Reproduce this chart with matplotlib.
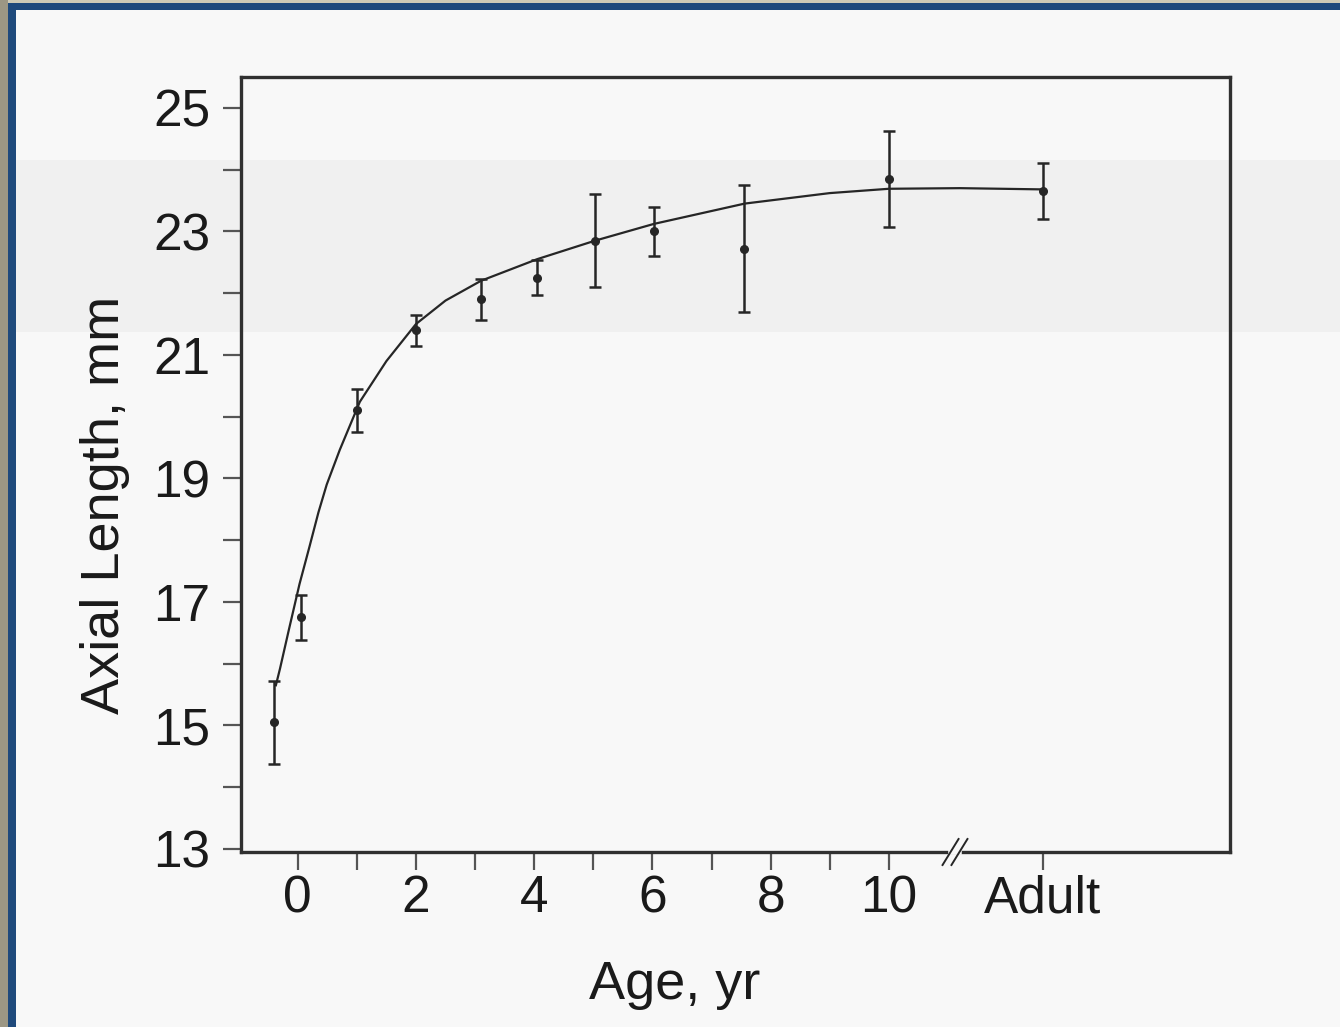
import matplotlib
matplotlib.use("Agg")
import matplotlib.pyplot as plt
from matplotlib.patches import Rectangle

plt.rcParams['font.family'] = ['Liberation Sans', 'DejaVu Sans']

# mean axial length by age
age = [-0.4, 0.05, 1, 2, 3.1, 4.05, 5.03, 6.03, 7.55, 10.0, 12.6]
axial_len = [15.05, 16.75, 20.1, 21.4, 21.9, 22.25, 22.85, 23.0, 22.72, 23.85, 23.65]
err = [0.67, 0.36, 0.35, 0.25, 0.33, 0.28, 0.75, 0.4, 1.03, 0.78, 0.45]

# fitted growth curve
curve_age = [-0.37, -0.3, -0.15, 0.03, 0.2, 0.35, 0.49, 0.71, 1.05, 1.5, 2.0,
             2.5, 3.1, 4.05, 5.03, 6.02, 7.56, 9.0, 10.0, 11.2, 12.6]
curve_len = [15.65, 15.92, 16.55, 17.29, 17.9, 18.45, 18.9, 19.46, 20.24, 20.9, 21.5,
             21.88, 22.2, 22.55, 22.85, 23.12, 23.45, 23.62, 23.69, 23.7, 23.68]

xtick_pos = [0, 2, 4, 6, 8, 10, 12.6]
xtick_labels = ['0', '2', '4', '6', '8', '10', 'Adult']
xminor_pos = [1, 3, 5, 7, 9]
ytick_pos = [13, 15, 17, 19, 21, 23, 25]
yminor_pos = [14, 16, 18, 20, 22, 24]

ink = '#262626'

fig = plt.figure(figsize=(13.4, 10.27), dpi=100, facecolor='#f8f8f8')

# scan frame (beige edge + blue border) and the faint grey band of the page
W, H = 1340, 1027
def px_rect(x, y, w, h, color):
    fig.add_artist(Rectangle((x / W, 1 - (y + h) / H), w / W, h / H,
                             transform=fig.transFigure, color=color, lw=0, zorder=-5))
px_rect(0, 160, W, 172, '#f0f0f0')
px_rect(0, 0, W, 3, '#cfcbb6')
px_rect(0, 3, W, 7, '#1f4a7c')
px_rect(0, 0, 8, H, '#9c9784')
px_rect(8, 3, 8, H, '#1f4a7c')

ax = fig.add_axes([241 / W, 1 - 852 / H, (1230 - 241) / W, (852 - 77) / H])
ax.set_facecolor('none')

ax.plot(curve_age, curve_len, color=ink, lw=1.6, zorder=2)
ax.errorbar(age, axial_len, yerr=err, fmt='o', color=ink, ms=5.5, elinewidth=1.8,
            capsize=4.5, capthick=1.8, zorder=3)

ax.set_xlim(-0.96, 15.77)
ax.set_ylim(12.95, 25.5)

ax.set_xticks(xtick_pos)
ax.set_xticklabels(xtick_labels)
ax.set_xticks(xminor_pos, minor=True)
ax.set_yticks(ytick_pos)
ax.set_yticks(yminor_pos, minor=True)

ax.tick_params(axis='both', which='both', direction='out', length=13, width=1.6,
               colors='#555555', labelcolor='#1a1a1a', labelsize=37)
ax.tick_params(axis='x', which='both', pad=3)
ax.tick_params(axis='y', which='both', pad=9)

for s in ax.spines.values():
    s.set_linewidth(2.4)
    s.set_color('#303030')

ax.set_xlabel('Age, yr', fontsize=39, color='#1a1a1a', va='center')
ax.xaxis.set_label_coords(0.439, -0.172)
ax.set_ylabel('Axial Length, mm', fontsize=39, color='#1a1a1a', va='center')
ax.yaxis.set_label_coords(-0.1375, 0.448)

# axis break "//" between 10 and Adult
bx = (955 - 241) / (1230 - 241)
dx, dy = 8 / 989, 13 / 775
ax.plot([bx - 0.004, bx + 0.004], [0, 0], color='#f8f8f8', lw=4, transform=ax.transAxes,
        clip_on=False, zorder=5)
for off in (-0.0045, 0.0045):
    ax.plot([bx + off - dx, bx + off + dx], [-dy, dy], color=ink, lw=1.4,
            transform=ax.transAxes, clip_on=False, zorder=6)

fig.savefig('out.png', dpi=100, facecolor=fig.get_facecolor())
